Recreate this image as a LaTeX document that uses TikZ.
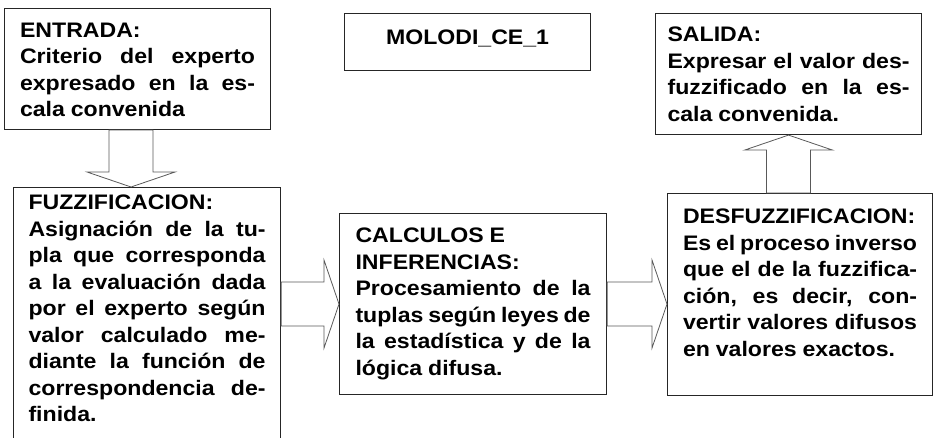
\documentclass[tikz,border=0pt]{standalone}
\usepackage{fontspec}
\setmainfont{Liberation Sans}[FakeStretch=1.1]
\usetikzlibrary{calc}

\newcommand{\boxfont}{\fontsize{21}{26.5}\selectfont\bfseries\parindent=0pt\spaceskip=.278em plus .14em minus .12em\relax}
\tolerance=10000
\hyphenpenalty=10000

\begin{document}
\begin{tikzpicture}[x=1pt, y=-1pt,
    box/.style={draw=black!85, line width=1.1pt, anchor=north west, align=justify, inner ysep=0pt, font=\boxfont},
    fatarrow/.style={draw=black!65, line width=0.8pt, to path={
        ($(\tikztotarget)!15pt!(\tikztostart)$) coordinate (fa)
        ($(\tikztostart)!22pt!90:(\tikztotarget)$) -- ($(fa)!22pt!90:(\tikztotarget)$)
        -- ($(fa)!44pt!90:(\tikztotarget)$) -- (\tikztotarget)
        -- ($(fa)!44pt!-90:(\tikztotarget)$) -- ($(fa)!22pt!-90:(\tikztotarget)$)
        -- ($(\tikztostart)!22pt!-90:(\tikztotarget)$) -- cycle}}]
    \useasboundingbox (0,0) rectangle (933,438);
    \clip (0,0) rectangle (933,438);

    \node[box, text width=235pt, inner xsep=15.5pt, text height=28.7pt, text depth=92.3pt] (entrada) at (4,8)
        {ENTRADA:\\ Criterio del experto\linebreak expresado en la es-\linebreak cala convenida};
    \node[box, text width=214pt, inner xsep=16pt, align=center, text height=31pt, text depth=26pt] (titulo) at (344,13)
        {MOLODI\_CE\_1};
    \node[box, text width=242pt, inner xsep=12pt, text height=28pt, text depth=93pt] (salida) at (655,13)
        {SALIDA:\\ Expresar el valor des-\linebreak fuzzificado en la es-\linebreak cala convenida.};
    \node[box, text width=237pt, inner xsep=15pt, text height=22pt, text depth=260pt] (fuzz) at (13,187)
        {FUZZIFICACION:\\ Asignación de la tu-\linebreak pla que corresponda\linebreak a la evaluación dada\linebreak
         por el experto según\linebreak valor calculado me-\linebreak diante la función de\linebreak
         correspondencia de-\linebreak finida.};
    \node[box, text width=235pt, inner xsep=16pt, text height=29pt, text depth=152pt] (calculo) at (339,213)
        {CALCULOS E\\ INFERENCIAS:\\ Procesamiento de la\linebreak tuplas según leyes de\linebreak
         la estadística y de la\linebreak lógica difusa.};
    \node[box, text width=234pt, inner xsep=15.5pt, text height=30pt, text depth=172pt] (desfuzz) at (667,193)
        {DESFUZZIFICACION:\\ Es el proceso inverso\linebreak que el de la fuzzifica-\linebreak
         ción, es decir, con-\linebreak vertir valores difusos\linebreak en valores exactos.};

    % flechas de bloque
    \coordinate (in) at ([xshift=-6.5pt]entrada.south);
    \draw[fatarrow] (in) to (in |- fuzz.north);
    \draw[fatarrow] (fuzz.east |- calculo.west) to (calculo.west);
    \draw[fatarrow] (calculo.east) to (desfuzz.west |- calculo.east);
    \draw[fatarrow] (desfuzz.north -| salida.south) to (salida.south);
\end{tikzpicture}
\end{document}
